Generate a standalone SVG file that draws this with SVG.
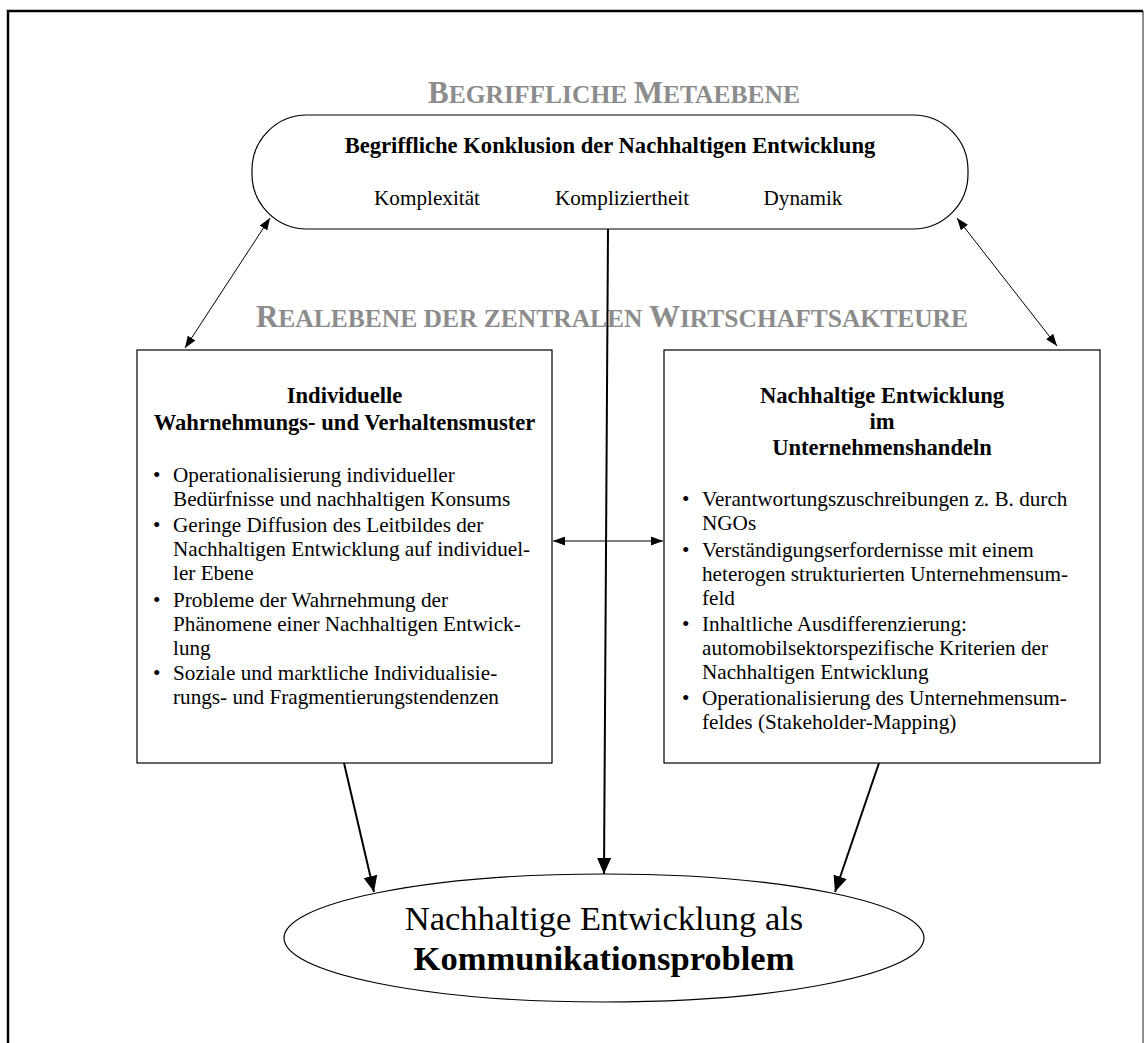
<svg xmlns="http://www.w3.org/2000/svg" width="1144" height="1043" viewBox="0 0 1144 1043">
  <style>
    text { font-family: "Liberation Serif", "Times New Roman", serif; fill: #000; }
    .level { font-weight: bold; fill: #8c8c8c; font-size: 25.5px; }
    .level .cap { font-size: 31px; }
    .head { font-weight: bold; font-size: 22.6px; text-anchor: middle; }
    .body { font-size: 21.2px; }
    .mid { text-anchor: middle; }
    .shape { fill: #fff; stroke: #000; stroke-width: 1.2; }
    .thin { fill: none; stroke: #000; stroke-width: 1; }
    .bold { fill: none; stroke: #000; stroke-width: 2; }
  </style>
  <defs>
    <marker id="tipThin" viewBox="0 0 12 9" refX="12" refY="4.5" markerWidth="12" markerHeight="9" markerUnits="userSpaceOnUse" orient="auto-start-reverse">
      <path d="M0,0 L12,4.5 L0,9 z" fill="#000"/>
    </marker>
    <marker id="tipBold" viewBox="0 0 16 14" refX="16" refY="7" markerWidth="16" markerHeight="14" markerUnits="userSpaceOnUse" orient="auto">
      <path d="M0,0 L16,7 L0,14 z" fill="#000"/>
    </marker>
  </defs>

  <rect width="1144" height="1043" fill="#fff"/>
  <!-- page frame -->
  <path d="M1143,11 V1043" fill="none" stroke="#666" stroke-width="1.5"/>
  <path d="M8,1043 V11 H1143" fill="none" stroke="#000" stroke-width="2.5"/>

  <!-- level captions -->
  <text class="level mid" x="614" y="103"><tspan class="cap">B</tspan>EGRIFFLICHE <tspan class="cap">M</tspan>ETAEBENE</text>
  <text class="level mid" x="612" y="327"><tspan class="cap">R</tspan>EALEBENE DER ZENTRALEN <tspan class="cap">W</tspan>IRTSCHAFTSAKTEURE</text>

  <!-- connectors -->
  <g id="connectors">
    <line class="bold" x1="608" y1="229" x2="604" y2="874" marker-end="url(#tipBold)"/>
    <line class="thin" x1="270" y1="218" x2="185" y2="348" marker-start="url(#tipThin)" marker-end="url(#tipThin)"/>
    <line class="thin" x1="957" y1="218" x2="1057" y2="346" marker-start="url(#tipThin)" marker-end="url(#tipThin)"/>
    <line class="thin" x1="553" y1="541" x2="663" y2="541" marker-start="url(#tipThin)" marker-end="url(#tipThin)"/>
    <line class="bold" x1="344" y1="763" x2="374" y2="892" marker-end="url(#tipBold)"/>
    <line class="bold" x1="879" y1="763" x2="835" y2="892" marker-end="url(#tipBold)"/>
  </g>

  <!-- conceptual conclusion -->
  <g id="konklusion">
    <rect class="shape" x="252" y="115" width="716" height="114" rx="55" ry="55"/>
    <text class="head" x="610" y="153">Begriffliche Konklusion der Nachhaltigen Entwicklung</text>
    <text class="body mid" x="427" y="205">Komplexität</text>
    <text class="body mid" x="622" y="205">Kompliziertheit</text>
    <text class="body mid" x="803" y="205">Dynamik</text>
  </g>

  <!-- individual level -->
  <g id="individuen">
    <rect class="shape" x="137" y="350" width="415" height="413"/>
    <text class="head" x="344.5" y="403">Individuelle</text>
    <text class="head" x="344.5" y="430">Wahrnehmungs- und Verhaltensmuster</text>
    <text class="body" x="153" y="482">•</text>
    <text class="body" x="173" y="482">Operationalisierung individueller</text>
    <text class="body" x="173" y="506">Bedürfnisse und nachhaltigen Konsums</text>
    <text class="body" x="153" y="532">•</text>
    <text class="body" x="173" y="532">Geringe Diffusion des Leitbildes der</text>
    <text class="body" x="173" y="556">Nachhaltigen Entwicklung auf individuel-</text>
    <text class="body" x="173" y="580">ler Ebene</text>
    <text class="body" x="153" y="607">•</text>
    <text class="body" x="173" y="607">Probleme der Wahrnehmung der</text>
    <text class="body" x="173" y="631">Phänomene einer Nachhaltigen Entwick-</text>
    <text class="body" x="173" y="655">lung</text>
    <text class="body" x="153" y="680">•</text>
    <text class="body" x="173" y="680">Soziale und marktliche Individualisie-</text>
    <text class="body" x="173" y="704">rungs- und Fragmentierungstendenzen</text>
  </g>

  <!-- corporate level -->
  <g id="unternehmen">
    <rect class="shape" x="664" y="350" width="436" height="413"/>
    <text class="head" x="882" y="403">Nachhaltige Entwicklung</text>
    <text class="head" x="882" y="429">im</text>
    <text class="head" x="882" y="455">Unternehmenshandeln</text>
    <text class="body" x="682" y="506">•</text>
    <text class="body" x="702" y="506">Verantwortungszuschreibungen z. B. durch</text>
    <text class="body" x="702" y="530">NGOs</text>
    <text class="body" x="682" y="557">•</text>
    <text class="body" x="702" y="557">Verständigungserfordernisse mit einem</text>
    <text class="body" x="702" y="581">heterogen strukturierten Unternehmensum-</text>
    <text class="body" x="702" y="605">feld</text>
    <text class="body" x="682" y="631">•</text>
    <text class="body" x="702" y="631">Inhaltliche Ausdifferenzierung:</text>
    <text class="body" x="702" y="655">automobilsektorspezifische Kriterien der</text>
    <text class="body" x="702" y="679">Nachhaltigen Entwicklung</text>
    <text class="body" x="682" y="705">•</text>
    <text class="body" x="702" y="705">Operationalisierung des Unternehmensum-</text>
    <text class="body" x="702" y="729">feldes (Stakeholder-Mapping)</text>
  </g>

  <!-- communication problem -->
  <g id="kommunikation">
    <ellipse class="shape" cx="604" cy="938" rx="320" ry="64"/>
    <text class="mid" x="604" y="930" font-size="34.5">Nachhaltige Entwicklung als</text>
    <text class="mid" x="604" y="970" font-size="34.5" font-weight="bold">Kommunikationsproblem</text>
  </g>
</svg>
